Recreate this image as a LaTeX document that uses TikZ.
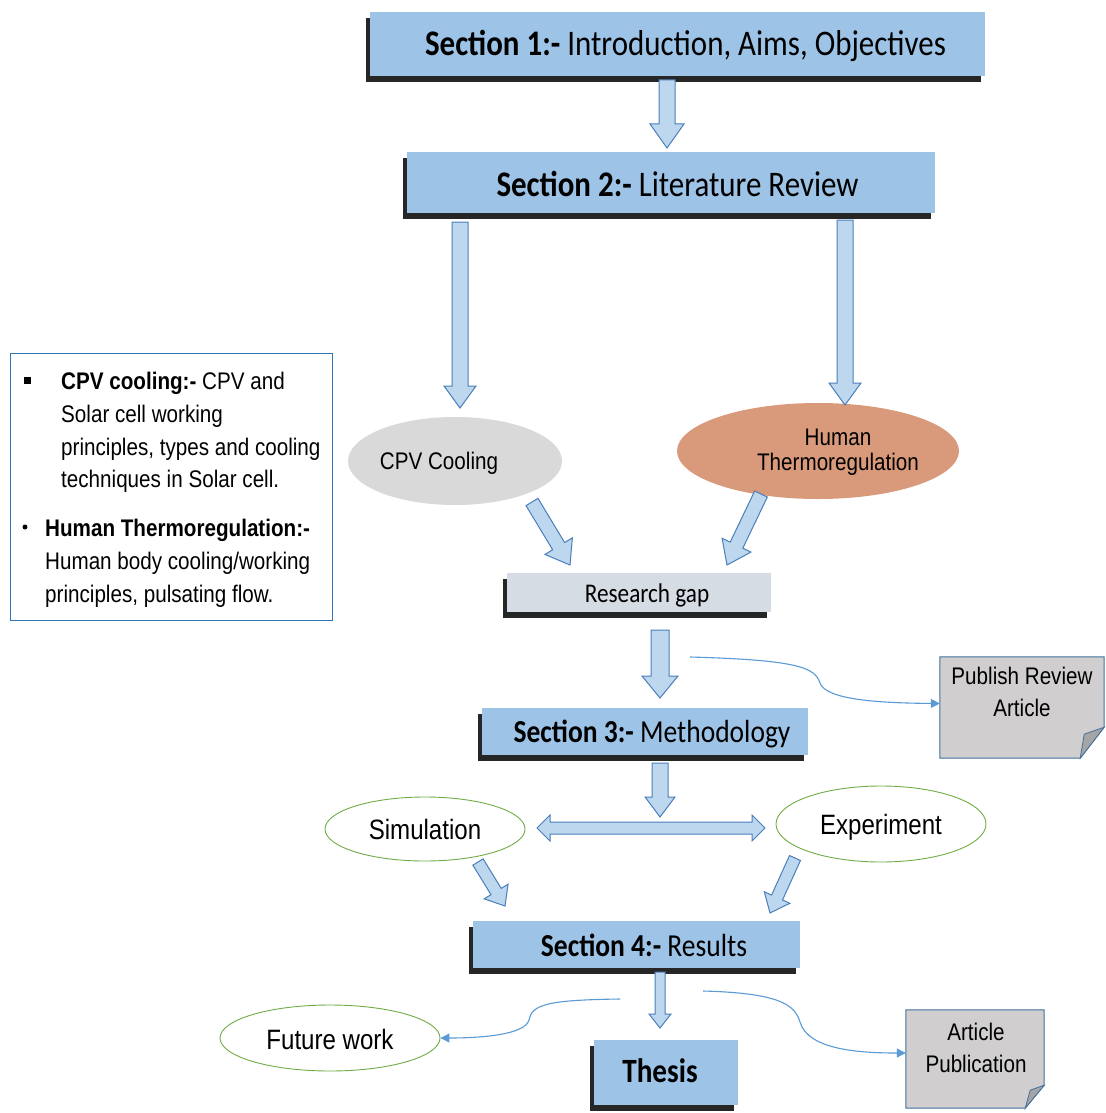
\documentclass[tikz,border=0pt]{standalone}
\usepackage{fontspec}
\setmainfont{Liberation Sans}[FakeStretch=0.86]
\newfontfamily\calfont{Carlito}[FakeStretch=0.86]
\usetikzlibrary{shapes.geometric,shadows,calc,arrows.meta}
\definecolor{secfill}{HTML}{9DC3E6}
\definecolor{arrfill}{HTML}{BDD7EE}
\definecolor{arrdraw}{HTML}{4A7EBB}
\definecolor{gapfill}{HTML}{D6DCE4}
\definecolor{cpvfill}{HTML}{D9D9D9}
\definecolor{humfill}{HTML}{D99A7C}
\definecolor{greenline}{HTML}{70AD47}
\definecolor{curveblue}{HTML}{5B9BD5}
\definecolor{notefill}{HTML}{D0CECE}
\definecolor{notedraw}{HTML}{41719C}
\definecolor{foldfill}{HTML}{A5A5A5}
\definecolor{boxblue}{HTML}{2E75B6}
\tikzset{
  secbox/.style={rectangle, fill=secfill, inner sep=0pt,
    drop shadow={shadow xshift=-4pt, shadow yshift=-6pt, fill=black, opacity=0.85}},
  gapbox/.style={secbox, fill=gapfill},
  sectext/.style={font=\calfont\fontsize{36}{40}\selectfont, anchor=base, inner sep=0pt},
  midtext/.style={font=\calfont\fontsize{32}{36}\selectfont, anchor=base, inner sep=0pt},
  ariatext/.style={font=\fontsize{24}{25}\selectfont, inner sep=0pt},
  bigtext/.style={font=\fontsize{28}{30}\selectfont, anchor=base, inner sep=0pt},
  oval/.style={ellipse, inner sep=0pt},
  greenoval/.style={oval, draw=greenline, line width=0.9pt, fill=white},
  notebox/.style={rectangle, inner sep=0pt},
  notepath/.style={fill=notefill, draw=notedraw, line width=1pt, line join=miter},
  foldpath/.style={fill=foldfill, draw=notedraw, line width=0.8pt, line join=miter},
  blockarrow/.style={fill=arrfill, draw=arrdraw, line width=1pt, line join=miter},
  curve/.style={draw=curveblue, line width=1.1pt, -{Triangle[length=9pt,width=9pt]}},
}
% block arrow: start name, end name, shaft half width, head half width, head length
\newcommand\barrow[5]{%
  \coordinate (bah) at ($(#2)!#5pt!(#1)$);
  \draw[blockarrow] ($(#1)!#3pt!90:(#2)$) -- ($(bah)!#3pt!-90:(#1)$) -- ($(bah)!#4pt!-90:(#1)$)
    -- (#2) -- ($(bah)!#4pt!90:(#1)$) -- ($(bah)!#3pt!90:(#1)$) -- ($(#1)!#3pt!-90:(#2)$) -- cycle;}
\begin{document}
\begin{tikzpicture}[x=1pt,y=1pt]
\useasboundingbox (0,0) rectangle (1105,-1113);
\fill[white] (0,0) rectangle (1105,-1113);

% ---- boxes ----
\node[secbox, minimum width=615pt, minimum height=64pt] (s1) at (677.5,-44) {};
\node[sectext] (s1t) at (685.5,-56) {\textbf{Section 1:-} Introduction, Aims, Objectives};
\node[secbox, minimum width=528pt, minimum height=61pt] (s2) at (671,-182.5) {};
\node[sectext] (s2t) at (677.5,-196) {\textbf{Section 2:-} Literature Review};
\node[gapbox, minimum width=264pt, minimum height=39pt] (gap) at (639,-592.5) {};
\node[font=\calfont\fontsize{27}{30}\selectfont, anchor=base, inner sep=0pt] (gapt) at (647,-602) {Research gap};
\node[secbox, minimum width=326pt, minimum height=47pt] (s3) at (645,-731.5) {};
\node[midtext] (s3t) at (652,-742) {\textbf{Section 3:-} Methodology};
\node[secbox, minimum width=327pt, minimum height=47pt] (s4) at (636.5,-944.5) {};
\node[midtext] (s4t) at (644,-956) {\textbf{Section 4:-} Results};
\node[secbox, minimum width=144pt, minimum height=65pt] (th) at (666,-1072.5) {};
\node[font=\calfont\bfseries\fontsize{34}{38}\selectfont, anchor=base, inner sep=0pt] (tht) at (660,-1082) {Thesis};

% ---- ellipses ----
\node[oval, fill=cpvfill, minimum width=214pt, minimum height=88pt] (cpv) at (455,-461) {};
\node[ariatext, anchor=base] (cpvt) at (439,-469.6) {CPV Cooling};
\node[oval, fill=humfill, minimum width=282pt, minimum height=96pt] (hum) at (818,-451) {};
\node[ariatext, anchor=north, align=center] (humt) at (838,-429.2) {Human\\Thermoregulation};
\node[greenoval, minimum width=200pt, minimum height=64pt] (sim) at (425,-829) {};
\node[bigtext] (simt) at (425,-839) {Simulation};
\node[greenoval, minimum width=210pt, minimum height=76pt] (exp) at (881,-824) {};
\node[bigtext] (expt) at (881,-834) {Experiment};
\node[greenoval, minimum width=220pt, minimum height=66pt] (fut) at (330,-1038) {};
\node[bigtext] (futt) at (330,-1049) {Future work};

% ---- notes ----
\node[notebox, minimum width=164pt, minimum height=101pt] (pub) at (1022,-707.5) {};
\draw[notepath] (pub.north west) -- (pub.north east) -- ($(pub.south east)+(0,31)$)
  -- ($(pub.south east)+(-24,0)$) -- (pub.south west) -- cycle;
\draw[foldpath] ($(pub.south east)+(-24,0)$) -- ($(pub.south east)+(-20,24)$) -- ($(pub.south east)+(0,31)$) -- cycle;
\node[ariatext, font=\fontsize{24}{32}\selectfont, anchor=north, align=center] (pubt) at (1022,-667.2) {Publish Review\\Article};

\node[notebox, minimum width=138pt, minimum height=98pt] (art) at (975,-1059) {};
\draw[notepath] (art.north west) -- (art.north east) -- ($(art.south east)+(0,23)$)
  -- ($(art.south east)+(-19,0)$) -- (art.south west) -- cycle;
\draw[foldpath] ($(art.south east)+(-19,0)$) -- ($(art.south east)+(-14,18)$) -- ($(art.south east)+(0,23)$) -- cycle;
\node[ariatext, font=\fontsize{24}{32}\selectfont, anchor=north, align=center] (artt) at (976,-1023.2) {Article\\Publication};

% ---- left text box ----
\node[rectangle, draw=boxblue, line width=1pt, fill=white, minimum width=322pt, minimum height=267pt] (lbox) at (171,-486.5) {};
\node[rectangle, fill=black, minimum size=7pt, inner sep=0pt] (b1) at (27,-380) {};
\node[font=\fontsize{24}{32.6}\selectfont, anchor=north west, align=left, inner sep=0pt] (p1) at (61,-372.4)
  {\textbf{CPV cooling:-} CPV and\\Solar cell working\\principles, types and cooling\\techniques in Solar cell.};
\node[circle, fill=black, minimum size=5pt, inner sep=0pt] (b2) at (25,-527) {};
\node[font=\fontsize{24}{32.6}\selectfont, anchor=north west, align=left, inner sep=0pt] (p2) at (45,-519.4)
  {\textbf{Human Thermoregulation:-}\\Human body cooling/working\\principles, pulsating flow.};

% ---- block arrows ----
\coordinate (a1s) at (667,-80);  \coordinate (a1e) at (667,-148);
\barrow{a1s}{a1e}{8}{17}{24}
\coordinate (a2s) at (460,-222); \coordinate (a2e) at (460,-408);
\barrow{a2s}{a2e}{8}{16}{22}
\coordinate (a3s) at (845,-220); \coordinate (a3e) at (845,-405);
\barrow{a3s}{a3e}{8}{16}{22}
\coordinate (a4s) at (532,-502); \coordinate (a4e) at (570,-565);
\barrow{a4s}{a4e}{7}{16}{22}
\coordinate (a5s) at (761,-494); \coordinate (a5e) at (727,-565);
\barrow{a5s}{a5e}{7}{16}{22}
\coordinate (a6s) at (660,-630); \coordinate (a6e) at (660,-698);
\barrow{a6s}{a6e}{9}{18}{22}
\coordinate (a7s) at (660,-763); \coordinate (a7e) at (660,-817);
\barrow{a7s}{a7e}{8}{15}{20}
\coordinate (a8s) at (478,-862); \coordinate (a8e) at (505,-906);
\barrow{a8s}{a8e}{6}{14}{17}
\coordinate (a9s) at (795,-858); \coordinate (a9e) at (770,-913);
\barrow{a9s}{a9e}{6}{14}{17}
\coordinate (a10s) at (660,-972); \coordinate (a10e) at (660,-1028);
\barrow{a10s}{a10e}{5}{11}{14}
% double arrow
\coordinate (da1) at (537,-828); \coordinate (da2) at (765,-828);
\draw[blockarrow] (da1) -- ($(da1)+(13,13)$) -- ($(da1)+(13,6)$) -- ($(da2)+(-13,6)$) -- ($(da2)+(-13,13)$)
  -- (da2) -- ($(da2)+(-13,-13)$) -- ($(da2)+(-13,-6)$) -- ($(da1)+(13,-6)$) -- ($(da1)+(13,-13)$) -- cycle;

% ---- curved connectors ----
\coordinate (c1a) at (690,-657);
\draw[curve] (c1a) .. controls (800,-660) and (815,-668) .. (820,-683)
  .. controls (826,-700) and (880,-703) .. ($(pub.west)+(0,4)$);
\coordinate (c2a) at (620,-999);
\draw[curve] (c2a) .. controls (545,-1000) and (532,-1005) .. (529,-1020)
  .. controls (525,-1035) and (480,-1038) .. (fut.east);
\coordinate (c3a) at (703,-991);
\draw[curve] (c3a) .. controls (780,-993) and (795,-1005) .. (800,-1022)
  .. controls (808,-1050) and (860,-1053) .. ($(art.west)+(0,6)$);
\end{tikzpicture}
\end{document}
